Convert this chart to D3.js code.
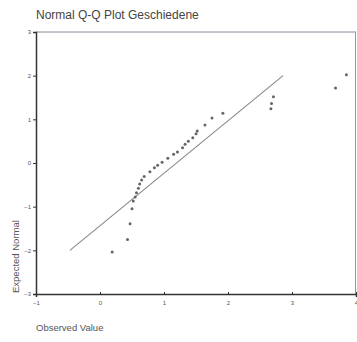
<!DOCTYPE html>
<html>
<head>
<meta charset="utf-8">
<script src="https://cdn.jsdelivr.net/npm/d3@7"></script>
<style>
  body { margin: 0; background: #fff; }
  svg { display: block; font-family: "Liberation Sans", Arial, sans-serif; }
</style>
</head>
<body>
<div id="chart"></div>
<script>
const observed = [0.19, 0.43, 0.47, 0.50, 0.52, 0.55, 0.57, 0.60, 0.62, 0.65, 0.69,
    0.78, 0.85, 0.90, 0.97, 1.06, 1.15, 1.21, 1.29, 1.33, 1.38, 1.45, 1.50, 1.52,
    1.64, 1.75, 1.92, 2.67, 2.68, 2.71, 3.68, 3.85];
const expected = [-2.04, -1.75, -1.39, -1.05, -0.87, -0.78, -0.68, -0.58, -0.48, -0.39, -0.31,
    -0.20, -0.11, -0.05, 0.02, 0.11, 0.20, 0.25, 0.35, 0.43, 0.50, 0.58, 0.67, 0.73,
    0.87, 1.03, 1.14, 1.24, 1.36, 1.52, 1.72, 2.02];
// reference line end points
const refX = [-0.47, 2.86];
const refY = [-2, 2];
const xTicks = [-1, 0, 1, 2, 3, 4];
const yTicks = [-3, -2, -1, 0, 1, 2, 3];

const W = 357, H = 342;
const margin = { top: 32, right: 1, bottom: 48, left: 36 },
    width = W - margin.left - margin.right,
    height = H - margin.top - margin.bottom;

const svg = d3.select("#chart").append("svg")
    .attr("width", W)
    .attr("height", H);

svg.append("text")
    .attr("x", 36)
    .attr("y", 19)
    .attr("font-size", 12)
    .attr("fill", "#444")
    .text("Normal Q-Q Plot Geschiedene");

const g = svg.append("g")
    .attr("transform", `translate(${margin.left}, ${margin.top})`);

const x = d3.scaleLinear().domain([-1, 4]).range([0, width]);
const y = d3.scaleLinear().domain([-3, 3]).range([height, 0]);

// frame (top and right)
g.append("line").attr("x1", 0).attr("x2", width).attr("y1", 0).attr("y2", 0)
    .attr("stroke", "#8a8a9a").attr("stroke-width", 1);
g.append("line").attr("x1", width - 0.5).attr("x2", width - 0.5).attr("y1", 0).attr("y2", height)
    .attr("stroke", "#999").attr("stroke-width", 1);

// axes
const xAxis = g.append("g")
    .attr("transform", `translate(0, ${height})`)
    .call(d3.axisBottom(x).tickValues(xTicks).tickSize(3).tickPadding(4).tickFormat(d3.format("d")));
const yAxis = g.append("g")
    .call(d3.axisLeft(y).tickValues(yTicks).tickSize(3).tickPadding(2).tickFormat(d3.format("d")));

[xAxis, yAxis].forEach(a => {
    a.select(".domain").attr("stroke", "#333").attr("stroke-width", 1.5);
    a.selectAll(".tick line").attr("stroke", "#333");
    a.selectAll(".tick text").attr("font-size", 6).attr("fill", "#555")
        .attr("font-family", "Liberation Sans, Arial, sans-serif");
});
xAxis.selectAll(".tick line").attr("y2", -2).attr("y1", 1);

// reference line
g.append("line")
    .attr("x1", x(refX[0])).attr("y1", y(refY[0]))
    .attr("x2", x(refX[1])).attr("y2", y(refY[1]))
    .attr("stroke", "#888").attr("stroke-width", 1.1);

// points
g.selectAll("circle.pt")
    .data(observed.map((d, i) => [d, expected[i]]))
    .join("circle")
    .attr("class", "pt")
    .attr("cx", d => x(d[0]))
    .attr("cy", d => y(d[1]))
    .attr("r", 1.5)
    .attr("fill", "#666");

// axis titles
svg.append("text")
    .attr("x", 36)
    .attr("y", 331)
    .attr("font-size", 9.5)
    .attr("fill", "#555")
    .text("Observed Value");

svg.append("text")
    .attr("transform", "translate(19, 293) rotate(-90)")
    .attr("font-size", 9.5)
    .attr("fill", "#555")
    .text("Expected Normal");
</script>
</body>
</html>
